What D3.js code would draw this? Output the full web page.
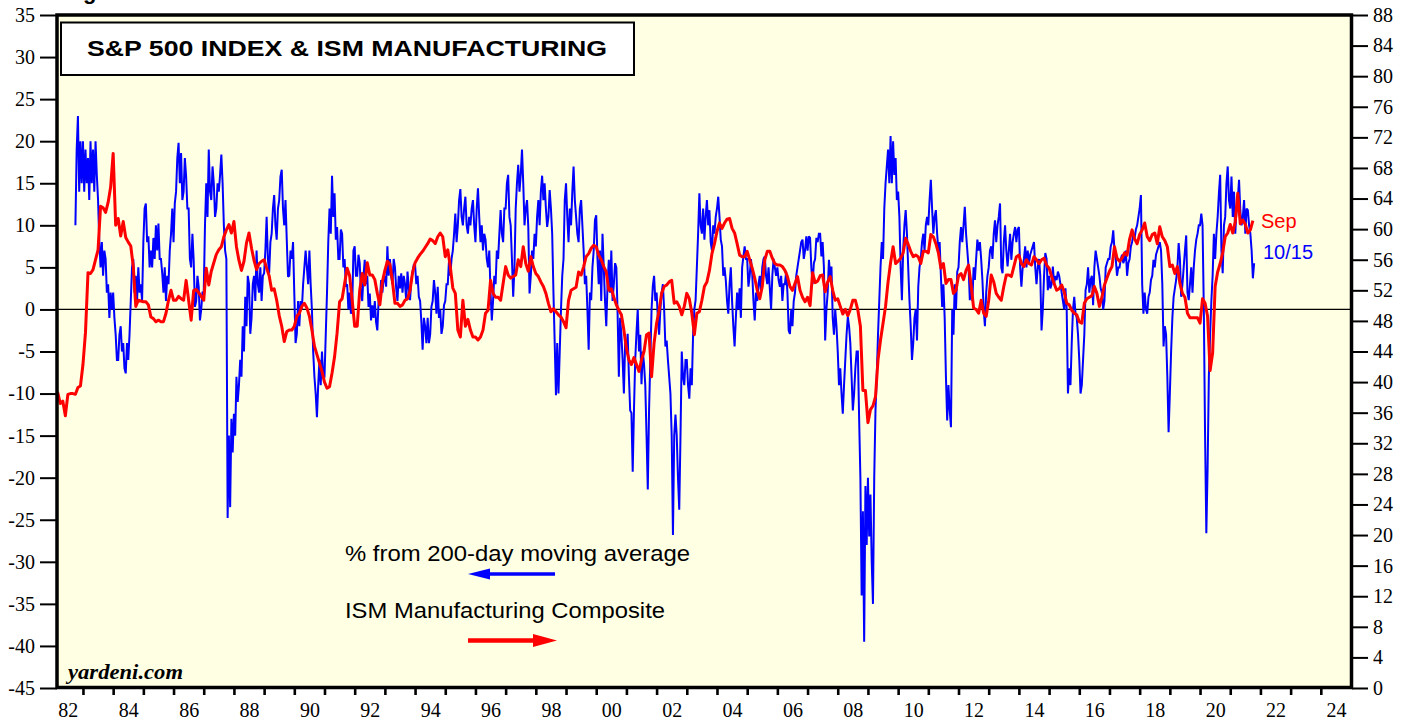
<!DOCTYPE html>
<html><head><meta charset="utf-8">
<script src="https://cdn.jsdelivr.net/npm/d3@7/dist/d3.min.js"></script>
<style>html,body{margin:0;padding:0;background:#fff;}svg{display:block;}</style>
</head><body>
<svg id="chart" width="1411" height="721"></svg>
<script>
// ---------------- data ----------------
const pctAxisTicks = [35,30,25,20,15,10,5,0,-5,-10,-15,-20,-25,-30,-35,-40,-45];
const ismAxisTicks = [88,84,80,76,72,68,64,60,56,52,48,44,40,36,32,28,24,20,16,12,8,4,0];
const yearTickValues = [1983,1984,1985,1986,1987,1988,1989,1990,1991,1992,1993,1994,1995,1996,1997,1998,1999,2000,2001,2002,2003,2004,2005,2006,2007,2008,2009,2010,2011,2012,2013,2014,2015,2016,2017,2018,2019,2020,2021,2022,2023,2024];
const yearLabelYears = [1982,1984,1986,1988,1990,1992,1994,1996,1998,2000,2002,2004,2006,2008,2010,2012,2014,2016,2018,2020,2022,2024];
const yearLabels = ["82","84","86","88","90","92","94","96","98","00","02","04","06","08","10","12","14","16","18","20","22","24"];

// ISM Manufacturing composite, monthly (right axis), one row per year from 1982
const ismFirstYear = 1982;
const ismMonthly = [
  [38.8,38.6,37.2,37.5,35.6,38.4,38.5,38.5,38.4,39.3,39.5,42.3],
  [46.5,54.3,54.2,54.7,56.0,57.3,63.0,62.8,62.2,63.5,65.5,69.9],
  [60.5,61.4,59.1,61.0,58.9,58.3,57.8,55.1,49.9,50.7,50.6,50.5],
  [50.5,50.1,48.5,48.3,47.9,48.1,47.9,47.9,49.0,50.7,52.0,50.7],
  [50.7,51.2,50.9,50.7,53.3,50.7,48.1,52.0,52.1,51.7,51.2,50.7],
  [54.9,52.7,54.5,55.6,56.7,57.3,57.7,59.0,59.9,60.6,59.5,61.0],
  [57.7,55.9,54.6,55.8,58.2,59.5,57.5,55.9,54.7,55.5,55.8,56.0],
  [54.9,53.9,52.0,52.2,50.7,48.7,47.3,45.3,46.6,46.8,46.8,47.3],
  [48.6,49.0,49.9,50.3,49.7,48.6,46.8,44.7,43.6,42.5,41.4,40.0],
  [39.2,39.4,41.2,43.3,46.4,50.5,50.9,52.9,54.9,53.9,50.7,47.3],
  [47.3,52.0,54.2,52.7,55.6,54.0,54.0,53.4,51.6,50.1,53.1,54.6],
  [55.8,55.4,53.2,50.3,50.3,49.9,50.1,50.7,50.9,52.0,54.3,55.6],
  [56.2,56.7,57.1,57.6,58.1,58.7,58.5,58.1,59.0,59.5,59.0,56.4],
  [57.3,55.1,52.3,51.6,46.8,45.9,50.7,47.3,48.2,46.8,45.9,45.9],
  [45.5,45.9,46.8,49.0,49.4,53.3,51.6,51.1,51.1,50.7,52.9,55.1],
  [54.0,53.6,53.8,54.0,56.0,55.1,57.7,55.5,54.5,56.4,55.1,54.2],
  [53.8,53.1,52.5,51.6,50.3,49.2,49.6,49.2,48.8,48.5,47.9,47.1],
  [50.7,52.0,52.2,52.4,54.4,54.0,55.1,56.4,56.8,57.5,57.9,57.7],
  [56.6,56.0,55.1,54.4,52.0,52.2,51.1,50.1,49.4,48.8,46.8,44.4],
  [42.9,42.3,43.2,42.3,41.4,42.9,44.0,46.2,46.4,40.7,45.1,47.7],
  [49.4,51.6,52.5,52.7,53.1,53.3,50.3,50.5,49.9,48.8,49.9,51.6],
  [50.9,49.0,46.2,49.0,49.2,50.7,52.5,53.1,54.6,56.8,58.1,59.7],
  [60.8,60.1,60.8,61.3,61.4,60.1,59.5,58.1,56.6,56.4,56.4,57.1],
  [56.0,54.9,53.6,52.0,50.9,52.5,56.0,57.1,57.1,56.2,55.5,55.3],
  [55.3,55.1,54.6,53.8,52.5,52.0,52.9,53.8,52.0,51.1,50.5,51.1],
  [50.0,54.3,53.0,53.2,53.9,54.0,51.8,53.1,53.8,52.0,50.7,50.9],
  [49.9,48.9,49.5,48.7,49.5,50.7,50.7,49.4,47.3,38.9,38.9,34.7],
  [36.4,36.9,38.1,42.9,45.5,47.7,49.9,53.1,55.6,57.7,55.5,55.8],
  [56.2,56.9,58.8,58.0,57.1,56.4,56.6,56.4,55.5,57.1,57.1,56.9],
  [59.3,59.0,58.1,56.9,54.9,55.5,52.9,53.4,53.4,51.6,52.0,53.9],
  [54.2,53.4,54.6,55.3,52.7,49.7,49.5,49.0,50.7,49.0,48.6,50.7],
  [54.0,53.1,51.6,51.1,50.7,52.5,54.0,54.0,53.8,55.1,56.4,56.6],
  [55.5,55.1,56.0,55.5,55.3,56.4,56.0,55.5,56.0,56.2,55.3,54.9],
  [53.8,52.9,52.0,52.2,52.7,51.8,50.3,50.1,49.4,49.0,48.8,47.9],
  [47.7,50.3,50.9,51.1,51.3,52.5,51.6,49.9,51.1,52.7,53.6,54.5],
  [55.1,57.7,56.2,55.8,56.2,56.9,56.6,58.7,59.9,58.7,58.1,59.3],
  [59.9,60.8,59.0,58.5,59.3,59.5,58.1,60.3,59.0,58.5,57.7,55.1],
  [55.3,54.2,55.1,52.9,51.6,51.1,49.0,48.4,48.4,48.4,48.4,47.7],
  [50.9,50.3,48.6,41.5,43.8,52.5,54.4,55.5,56.9,59.0,59.5,60.6],
  [59.5,61.0,64.7,60.7,61.2,60.6,59.5,59.9,61.1]
];

// S&P 500 % from 200-day moving average (left axis), two readings per month,
// one row per year from 1982 (1982 row starts in October)
const spxFirstYear = 1982;
const spxFirstHalfMonth = 18;
const spxPctFrom200 = [
  [10,19,23,14,20,15],
  [20,14,19,15,18,13,20,15,19,14,20,16,13,8,5,8,4,7,6,2,3,-1,2,0],
  [2,-1,-3,-6,-6,-3,-2,-5,-4,-7,-7.6,-4,-6,-3,1,5,6,2,4,1,5,2,3,1],
  [8,12,12.6,8,8.7,5,7,5,8.5,6,10,7,10.2,6,6,4.3,2,5,1,4,3,7,9,12],
  [8,12.6,14,18,19.8,15,18.6,13,14,18,15.8,12,12,6,5,9,5.9,0.3,1,4,2.7,-1.3,0,2],
  [2,10,15,11,19,14,13,17,15,11,12,15,14,16,18.4,15,10,7,6,-24.8,-15,-23.5,-13,-17],
  [-12.4,-15,-8,-11,-9,-6,-8,-2,-5,1.5,-2,4,3,-2.9,-1,3,4,1,7,3,2,5,1,4],
  [4.3,7,11,6,4.3,8,9,12,13.6,10,8.3,12,13,15.8,16.6,12,10,13,8.3,3.9,4,7,6,8],
  [1.9,-4,-2.9,1,-2,1,0,3,5,7,5,3,7,3,0,-5,-8,-10,-12.8,-9,-6,-9,-5,-8],
  [-8,-3,2,8,12,9,15.9,11,13.8,8.3,9.8,6,6,9.5,9,5,6,2.7,3,0,2,-0.5,0,7],
  [7.5,4,4,6.5,5.5,2,1,4,5.9,3,4,0.3,1.9,-1.3,0.5,-1,1,-1.5,-2.5,1,1,3.5,2,3.5],
  [4,2.7,7.5,4,6,4,3,6,5,2.5,1,4,2.5,4.3,2,4,3,1,4.5,2.5,1.1,3.5,4.5,5.3],
  [5.3,3,4,1.5,1,-1.5,-4.8,-1,-2,-4,-1,-4,-3,0.3,1,3.5,2,-0.5,2.7,-1,0,-2.9,-2,0.5],
  [1,3,3,5.9,4,6,7,9,11.4,8,10,13,14.3,11,10,12,13.4,10,9,11,10,12,13,10],
  [8,12,14.4,11,8,10,7,9,8.3,6,5,7,2,-1.3,1,4,3,7,6,9,11.8,9,8,12],
  [12,15,16,11,10,6,1.5,5,12,15,17.2,14,16,19,15,10,12,13,9.8,1.9,4,7,6,9],
  [7.5,11,13,10,14,15.9,13,15,12,9.8,11,14.2,12,9,2,-4,-10.2,-4,-10,-5,0,4,6,13],
  [15,11,8,12,10,14,17,13,11,9,8,12,13,10,7,3,4,0,-4.8,2,1.1,5,7,10.6],
  [11.2,6,3,7,1,9,5,1,-2,3,5.9,2,7,1,3,5.5,5,-0.5,-8,-1,-3,-6,-10,-4],
  [-5,-2.9,-8,-12,-12.3,-19.3,-12,-6,-2.8,0,-5,-3,-8.9,-5,-6.5,-9,-15,-21.4,-12,-6,0,2.8,4,1],
  [2,-1,-3,0,2,3,0,-4.4,-3.7,-6,-8,-10,-15,-26.8,-15,-12.5,-15,-20,-23.8,-15,-5,-8,-9,-6],
  [-6,-9,-10.6,-7,-9,-3,0,1.1,5,9,13.8,10,9,12,8.3,11,13,10,11.8,8,7,10,9,11],
  [12,13.4,11,8.3,7.5,4,5,3.5,1,-0.5,3,5,1,-2,-4.4,-1,2,0,2.5,-1,5,6.3,7.5,6],
  [6,2.7,4,6,4.3,1,-1.3,2,1,3,4,2,5,6,6.3,4,3,5,2.5,0,4,6,5,4],
  [5,3.5,2.7,4,1,3,3,4.5,2,-2.5,-2.9,0,-2,1,2,4,5,6,7,8,8.3,6,7,8.7],
  [7,8.7,8.5,5,3,5.5,6,8.5,8,9,9,6.3,8,5,-3.7,0,2,5.9,4,5.1,-1,-3,0,-2],
  [-5,-9,-7,-10,-12.4,-9,-6,-3,-0.9,-2,-4,-8,-12,-10,-7,-5,-5,-13,-20,-34,-24,-39.5,-21,-28],
  [-20,-27,-22,-30,-35,-20,-12,-8,-3,1,5,8,6,12,15,17,19,15,20.6,15,20,16,18,13],
  [14,11,5,1.1,7,10,11.8,9,5,1.1,-2,-6,-4,-1,0,-3.7,2.7,5,6,8,9,7,10,11],
  [10,13,15.4,12,9,11,11.8,9,7,8,4,0.3,3,-1,-8,-13.2,-9,-12,-14,0,-3,3,0,4.5],
  [5,8,9.8,8,10,12.2,9,7,5,1.1,3,1,5,3.5,6,8.3,7,8,6,3.5,0,-2,2,4],
  [5,7,7.5,6,9,10.6,8,10,11,12.6,5,4.3,8,10,7,5.1,7,9,5.9,8,9,9.8,8,9.5],
  [9.8,5,2.7,5,6,7.5,5,7,5.5,6.5,7,7.5,8,5,3,5,6,4,-2.5,0,4,6.7,6,2.3],
  [4,2.5,3,5.1,3,4,3.5,4.5,4,3,2,1,0,2.5,0,-10,-7,-9,-4,0,1.5,-0.5,-1,-3],
  [-6,-10,-9,-6,-3,2.3,3,5,2,3.5,4,0.5,5,7,6,5,4,2.5,2,0,1,5,5.5,6],
  [6,7.5,8,9.4,7,6,4,5,5,6,6.5,5.5,6,7,4,5.5,6,7.5,8,9,8.5,9.5,10,11],
  [12,13.6,3,-0.5,2,0,-0.5,1.5,2,3.5,4,5.9,5,6.5,7,7.5,8,7,3,-4.4,-2,-3,-8,-14.6],
  [-10,-5,-1,1.5,2.5,3.5,5,7.9,6,1.5,3,5,7,8.8,2,1.1,3,5,2,5,7,8.3,9,10],
  [10,11.4,10,0,-15,-26.6,-19,-8,-3,1,4,9,6,9,11,13.8,16,7,4.3,10,11,15,17,13],
  [12,15.8,11,14,9,12,13,15.4,11.8,10,11,13,9,12,11.8,10,9,7,3.7,5.5]
];

// ---------------- chart ----------------
const plot = {left: 57, right: 1351, top: 15, bottom: 688};
const svg = d3.select("#chart");
const SANS = "'Liberation Sans', Arial, Helvetica, sans-serif";
const SERIF = "'Liberation Serif', 'Times New Roman', serif";

const x = d3.scaleLinear().domain([1982.14, 2025]).range([plot.left, plot.right]);
const yL = d3.scaleLinear().domain([-45, 35]).range([plot.bottom, plot.top]);
const yR = d3.scaleLinear().domain([0, 88]).range([plot.bottom, plot.top]);

const ismData = ismMonthly.flatMap((row, i) => row.map((v, m) => ({t: ismFirstYear + i + (m + 1) / 12, v})));
const spxData = spxPctFrom200.flatMap((row, i) => row.map((v, j) => ({t: spxFirstYear + i + ((i === 0 ? spxFirstHalfMonth : 0) + j) / 24, v})));

// header remnant cut by the top edge (as in the reference)
svg.append("text").attr("x", 63.4).attr("y", -0.6)
  .attr("font-family", SANS).attr("font-weight", "bold").attr("font-size", 22)
  .text("Figure");

// plot background
svg.append("rect").attr("x", plot.left).attr("y", plot.top)
  .attr("width", plot.right - plot.left).attr("height", plot.bottom - plot.top)
  .attr("fill", "#FFFFE3");

svg.append("clipPath").attr("id", "clip").append("rect")
  .attr("x", plot.left).attr("y", plot.top)
  .attr("width", plot.right - plot.left).attr("height", plot.bottom - plot.top);

const g = svg.append("g").attr("clip-path", "url(#clip)");

// zero line
g.append("line").attr("x1", plot.left).attr("x2", plot.right)
  .attr("y1", yL(0)).attr("y2", yL(0)).attr("stroke", "#000").attr("stroke-width", 1.2);

// blue series
g.append("path").datum(spxData)
  .attr("fill", "none").attr("stroke", "#0000FF").attr("stroke-width", 2)
  .attr("stroke-linejoin", "miter").attr("stroke-miterlimit", 2)
  .attr("d", d3.line().x(d => x(d.t)).y(d => yL(d.v)));

// red series
g.append("path").datum(ismData)
  .attr("fill", "none").attr("stroke", "#FF0000").attr("stroke-width", 3)
  .attr("stroke-linejoin", "round")
  .attr("d", d3.line().x(d => x(d.t)).y(d => yR(d.v)));

// title box
svg.append("rect").attr("x", 61).attr("y", 22.5).attr("width", 573).attr("height", 52.5)
  .attr("fill", "#fff").attr("stroke", "#000").attr("stroke-width", 2);
svg.append("text").attr("x", 87).attr("y", 55.5)
  .attr("font-family", SANS).attr("font-weight", "bold").attr("font-size", 22.5)
  .attr("textLength", 520).attr("lengthAdjust", "spacingAndGlyphs")
  .text("S&P 500 INDEX & ISM MANUFACTURING");

// legend
svg.append("text").attr("x", 345).attr("y", 560.5)
  .attr("font-family", SANS).attr("font-size", 22)
  .attr("textLength", 345).attr("lengthAdjust", "spacingAndGlyphs")
  .text("% from 200-day moving average");
svg.append("line").attr("x1", 486).attr("x2", 555).attr("y1", 574).attr("y2", 574)
  .attr("stroke", "#0000FF").attr("stroke-width", 3.5);
svg.append("path").attr("d", "M468,574 L490,568.5 L490,579.5 Z").attr("fill", "#0000FF");

svg.append("text").attr("x", 345).attr("y", 618)
  .attr("font-family", SANS).attr("font-size", 22)
  .attr("textLength", 320).attr("lengthAdjust", "spacingAndGlyphs")
  .text("ISM Manufacturing Composite");
svg.append("line").attr("x1", 468).attr("x2", 537).attr("y1", 640.5).attr("y2", 640.5)
  .attr("stroke", "#FF0000").attr("stroke-width", 4.5);
svg.append("path").attr("d", "M557,640.5 L533,634 L533,647 Z").attr("fill", "#FF0000");

// end labels
svg.append("text").attr("x", 1261).attr("y", 227.5)
  .attr("font-family", SANS).attr("font-size", 20).attr("fill", "#FF0000").text("Sep");
svg.append("text").attr("x", 1263).attr("y", 258.5)
  .attr("font-family", SANS).attr("font-size", 20).attr("fill", "#0000FF").text("10/15");

// source
svg.append("text").attr("x", 68).attr("y", 679)
  .attr("font-family", SERIF).attr("font-weight", "bold").attr("font-style", "italic")
  .attr("font-size", 21).attr("textLength", 115).attr("lengthAdjust", "spacingAndGlyphs")
  .text("yardeni.com");

// axes
const plainNum = d => String(d);
const axisL = svg.append("g").attr("transform", `translate(${plot.left},0)`)
  .call(d3.axisLeft(yL).tickValues(pctAxisTicks).tickSize(17).tickSizeOuter(0).tickPadding(5).tickFormat(plainNum));
const axisR = svg.append("g").attr("transform", `translate(${plot.right + 1},0)`)
  .call(d3.axisRight(yR).tickValues(ismAxisTicks).tickSize(16).tickSizeOuter(0).tickPadding(5).tickFormat(plainNum));
const axisBTicks = svg.append("g").attr("transform", `translate(0,${plot.bottom})`)
  .call(d3.axisBottom(x).tickValues(yearTickValues).tickSize(7).tickSizeOuter(0).tickFormat(""));
const axisBLabels = svg.append("g").attr("transform", `translate(0,${plot.bottom})`)
  .call(d3.axisBottom(x).tickValues(yearLabelYears.map(y => y + 0.5)).tickSize(0).tickSizeOuter(0).tickPadding(15)
    .tickFormat((d, i) => yearLabels[i]));

[axisL, axisR, axisBTicks, axisBLabels].forEach(a => {
  a.select(".domain").remove();
  a.selectAll("text").attr("font-family", SERIF).attr("font-size", 20).attr("fill", "#000");
  a.selectAll("line").attr("stroke", "#000").attr("stroke-width", 2);
});
axisBTicks.selectAll("line").attr("stroke-width", 2.6);
axisBLabels.selectAll("line").remove();

// frame
svg.append("rect").attr("x", plot.left).attr("y", plot.top)
  .attr("width", plot.right - plot.left + 0.5).attr("height", plot.bottom - plot.top - 0.5)
  .attr("fill", "none").attr("stroke", "#000").attr("stroke-width", 3.5);
</script>
</body></html>
